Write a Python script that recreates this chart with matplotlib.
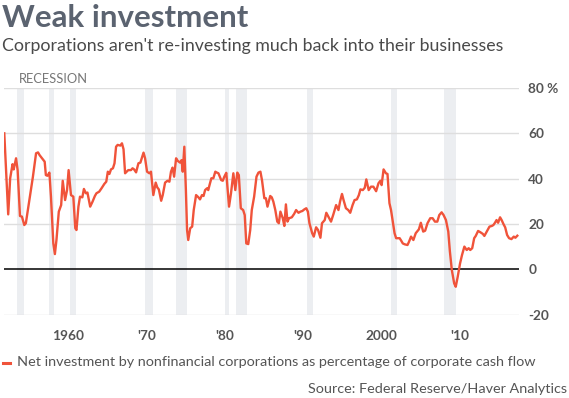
import matplotlib as mpl
mpl.use('Agg')
import matplotlib.pyplot as plt
from matplotlib.lines import Line2D

plt.rcParams['font.family'] = ['Lato', 'DejaVu Sans']

# net investment as % of corporate cash flow
years = [
  1951.9, 1952.4, 1952.65, 1952.95, 1953.1, 1953.4, 1953.6, 1953.9, 1954.15, 1954.45,
  1954.65, 1955.1, 1955.55, 1955.95, 1956.2, 1956.4, 1956.8, 1957.05, 1957.2, 1957.4,
  1957.65, 1957.85, 1958.15, 1958.35, 1958.55, 1958.85, 1959.15, 1959.35, 1959.65, 1959.9,
  1960.1, 1960.4, 1960.7, 1960.95, 1961.1, 1961.35, 1961.55, 1961.85, 1962.05, 1962.3,
  1962.5, 1962.85, 1963.15, 1963.45, 1963.65, 1964.0, 1964.3, 1964.65, 1964.9, 1965.1,
  1965.3, 1965.5, 1965.75, 1965.95, 1966.15, 1966.35, 1966.7, 1966.9, 1967.1, 1967.3,
  1967.5, 1967.7, 1968.05, 1968.25, 1968.45, 1968.7, 1969.0, 1969.25, 1969.45, 1969.65,
  1969.85, 1970.1, 1970.4, 1970.6, 1970.9, 1971.2, 1971.4, 1971.6, 1971.9, 1972.1,
  1972.4, 1972.7, 1972.95, 1973.15, 1973.35, 1973.55, 1973.8, 1974.0, 1974.3, 1974.5,
  1974.65, 1974.85, 1975.05, 1975.2, 1975.35, 1975.6, 1975.85, 1976.05, 1976.35, 1976.65,
  1976.85, 1977.1, 1977.3, 1977.5, 1977.75, 1977.9, 1978.1, 1978.3, 1978.55, 1978.8,
  1979.0, 1979.2, 1979.55, 1979.75, 1979.95, 1980.2, 1980.55, 1980.8, 1981.1, 1981.35,
  1981.6, 1981.8, 1982.05, 1982.35, 1982.55, 1982.75, 1983.0, 1983.25, 1983.45, 1983.75,
  1984.05, 1984.3, 1984.55, 1984.75, 1985.05, 1985.25, 1985.45, 1985.8, 1986.0, 1986.2,
  1986.45, 1986.7, 1986.9, 1987.1, 1987.4, 1987.6, 1987.8, 1988.0, 1988.2, 1988.55,
  1988.85, 1989.1, 1989.4, 1989.65, 1989.9, 1990.15, 1990.4, 1990.6, 1990.8, 1991.15,
  1991.35, 1991.65, 1991.9, 1992.2, 1992.4, 1992.75, 1992.95, 1993.25, 1993.55, 1993.85,
  1994.2, 1994.5, 1994.7, 1994.95, 1995.15, 1995.45, 1995.75, 1996.0, 1996.3, 1996.55,
  1996.85, 1997.1, 1997.3, 1997.6, 1997.85, 1998.05, 1998.35, 1998.65, 1998.95, 1999.3,
  1999.6, 1999.85, 2000.0, 2000.25, 2000.55, 2000.75, 2001.0, 2001.2, 2001.4, 2001.65,
  2001.85, 2002.3, 2002.5, 2002.7, 2002.95, 2003.3, 2003.5, 2003.75, 2004.05, 2004.35,
  2004.75, 2005.0, 2005.3, 2005.55, 2005.85, 2006.2, 2006.5, 2006.8, 2007.1, 2007.35,
  2007.65, 2007.9, 2008.2, 2008.5, 2008.7, 2008.95, 2009.25, 2009.45, 2009.7, 2010.0,
  2010.25, 2010.55, 2010.85, 2011.1, 2011.3, 2011.55, 2011.8, 2012.0, 2012.3, 2012.6,
  2012.9, 2013.1, 2013.4, 2013.75, 2014.05, 2014.25, 2014.45, 2014.65, 2014.85, 2015.1,
  2015.3, 2015.55, 2015.75, 2016.0, 2016.25, 2016.55, 2016.85, 2017.05, 2017.3,
]
net_investment = [
  59.9, 24.2, 40.1, 46.3, 44.0, 48.9, 43.7, 23.5, 23.2, 19.5,
  20.3, 30.5, 40.8, 51.1, 51.5, 50.3, 48.5, 47.4, 41.5, 41.2,
  42.6, 32.0, 11.4, 6.7, 12.9, 25.4, 28.3, 39.0, 30.5, 34.9,
  43.7, 32.7, 32.0, 18.1, 17.3, 27.6, 32.0, 31.7, 35.4, 33.5,
  33.8, 27.6, 29.8, 32.3, 33.5, 34.2, 35.7, 37.6, 38.6, 43.0,
  42.0, 44.0, 44.5, 46.7, 54.0, 54.8, 54.5, 55.5, 52.9, 42.3,
  43.0, 43.7, 43.7, 44.5, 44.0, 42.7, 46.7, 47.0, 49.2, 51.4,
  48.9, 43.0, 42.3, 43.0, 32.7, 38.2, 36.1, 35.2, 30.2, 32.7,
  38.2, 39.0, 38.6, 43.0, 44.8, 40.8, 48.9, 47.8, 47.0, 48.1,
  43.0, 54.0, 34.9, 17.3, 12.9, 18.1, 18.8, 26.1, 32.7, 31.7,
  30.8, 32.7, 32.3, 34.9, 35.7, 34.9, 37.6, 40.1, 40.1, 43.0,
  42.6, 42.3, 39.3, 39.0, 40.8, 42.5, 27.6, 33.5, 42.3, 34.9,
  42.6, 41.5, 26.9, 26.1, 23.9, 11.4, 11.1, 17.3, 26.1, 32.0,
  40.8, 42.6, 43.0, 39.3, 31.3, 31.3, 27.6, 32.3, 31.7, 29.8,
  26.1, 21.0, 20.3, 25.4, 22.5, 19.1, 28.6, 21.0, 22.5, 22.9,
  24.4, 26.1, 24.9, 25.4, 25.7, 26.4, 26.9, 25.4, 20.3, 15.9,
  14.4, 18.5, 17.3, 13.9, 20.3, 21.7, 24.9, 22.9, 21.0, 24.2,
  28.3, 26.1, 29.8, 33.2, 30.5, 26.9, 26.1, 24.9, 28.3, 30.5,
  30.8, 32.7, 35.2, 34.9, 35.9, 39.6, 34.9, 36.4, 36.4, 34.4,
  37.9, 39.0, 37.1, 44.0, 42.3, 42.0, 29.1, 26.1, 21.7, 15.9,
  13.7, 13.7, 12.6, 11.4, 11.0, 10.7, 12.2, 14.4, 12.9, 15.9,
  17.6, 20.5, 16.6, 17.0, 20.3, 22.5, 22.5, 21.0, 21.0, 23.9,
  25.1, 23.9, 21.7, 16.6, 8.0, -0.3, -6.2, -7.7, -3.3, 2.6,
  6.3, 10.0, 8.5, 9.3, 8.5, 9.3, 13.7, 14.7, 16.9, 16.3,
  15.6, 14.7, 16.6, 18.8, 19.1, 19.5, 20.5, 21.7, 20.5, 22.9,
  21.7, 19.8, 18.5, 15.1, 13.7, 13.3, 14.4, 13.9, 14.8,
]

# NBER recessions
rec_start = [1953.5, 1957.6, 1960.3, 1969.9, 1973.8, 1980.0, 1981.5, 1990.5, 2001.2, 2007.9]
rec_end = [1954.4, 1958.3, 1961.1, 1970.9, 1975.2, 1980.5, 1982.9, 1991.2, 2001.9, 2009.5]

xtick_years = [1960, 1970, 1980, 1990, 2000, 2010]
xtick_labels = ['1960', "'70", "'80", "'90", '2000', "'10"]
ytick_vals = [-20, 0, 20, 40, 60, 80]
ytick_labels = ['-20', '0', '20', '40', '60', '80 %']

RED = '#f0533a'
GRID = '#dedede'
SHADE = '#eceef1'

fig = plt.figure(figsize=(5.69, 3.98), dpi=100)
ax = fig.add_axes([3.5 / 569, 83.3 / 398, 515 / 569, 227 / 398])

for s, e in zip(rec_start, rec_end):
  ax.axvspan(s, e, color=SHADE, lw=0, zorder=0)

for v in ytick_vals:
  if v == 0:
    ax.axhline(v, color='black', lw=1.1, zorder=2)
  else:
    ax.axhline(v, color=GRID, lw=1.0, zorder=1)

ax.plot(years, net_investment, color=RED, lw=1.7, zorder=3, solid_joinstyle='round')

ax.set_xlim(1951.8, 2017.45)
ax.set_ylim(-20, 80)

ax.set_xticks(xtick_years)
ax.set_xticklabels(xtick_labels)
ax.set_yticks(ytick_vals)
ax.set_yticklabels(ytick_labels)
ax.yaxis.tick_right()
ax.tick_params(axis='both', length=0, labelsize=9.8, labelcolor='#555555')
ax.tick_params(axis='x', pad=11)
ax.tick_params(axis='y', pad=7)
for lab in ax.get_xticklabels() + ax.get_yticklabels():
  lab.set_fontweight('bold')
for sp in ax.spines.values():
  sp.set_visible(False)
ax.patch.set_alpha(0)

fig.text(2 / 569, 1 - 18 / 398, 'Weak investment', fontsize=22.5, fontweight='bold',
         color='#5b6370', va='center', ha='left')
fig.text(2 / 569, 1 - 46 / 398, "Corporations aren't re-investing much back into their businesses",
         fontsize=12.8, color='#4a4a4a', va='center', ha='left')
fig.text(19 / 569, 1 - 79 / 398, 'RECESSION', fontsize=9.3, color='#777777', va='center', ha='left')

fig.add_artist(Line2D([3 / 569, 10 / 569], [1 - 362.5 / 398] * 2, color=RED, lw=2.2))
fig.text(17 / 569, 1 - 362.5 / 398,
         'Net investment by nonfinancial corporations as percentage of corporate cash flow',
         fontsize=10.4, color='#555555', va='center', ha='left')
fig.text(567.5 / 569, 1 - 389 / 398, 'Source: Federal Reserve/Haver Analytics',
         fontsize=10.4, color='#555555', va='center', ha='right')

fig.savefig('out.png', dpi=100)
